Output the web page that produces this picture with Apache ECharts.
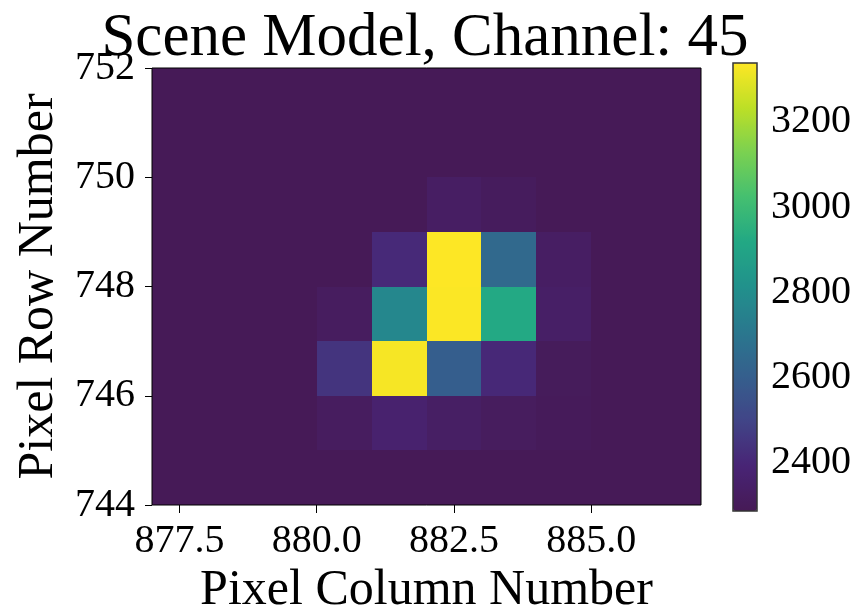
<!DOCTYPE html>
<html>
<head>
<meta charset="utf-8">
<script src="https://cdn.jsdelivr.net/npm/echarts@6/dist/echarts.min.js"></script>
<style>
  html, body {margin: 0; padding: 0; background: #fff;}
  #chart {width: 858px; height: 609px;}
</style>
</head>
<body>
<div id="chart"></div>
<script>
// pixel grid: lower-left corner of each cell
const columns = [877, 878, 879, 880, 881, 882, 883, 884, 885, 886];
const rows = [751, 750, 749, 748, 747, 746, 745, 744];
// flux per pixel, one line per row (top row first), columns left to right
const flux = [
    [2290, 2290, 2290, 2290, 2290, 2290, 2290, 2290, 2290, 2290],
    [2290, 2290, 2290, 2290, 2290, 2290, 2290, 2290, 2290, 2290],
    [2290, 2290, 2290, 2290, 2290, 2330, 2310, 2290, 2290, 2290],
    [2290, 2290, 2290, 2290, 2410, 3338, 2645, 2330, 2290, 2290],
    [2290, 2290, 2290, 2318, 2770, 3335, 2920, 2340, 2290, 2290],
    [2290, 2290, 2290, 2445, 3326, 2600, 2405, 2305, 2290, 2290],
    [2290, 2290, 2290, 2318, 2370, 2335, 2315, 2300, 2290, 2290],
    [2290, 2290, 2290, 2290, 2290, 2290, 2290, 2290, 2290, 2290]
];
const xTicks = [877.5, 880.0, 882.5, 885.0];
const barTicks = [2400, 2600, 2800, 3000, 3200];
const fluxMin = 2287;
const fluxMax = 3338;

// viridis, bottom stop nudged towards how the original renders it
const viridis = ['#461a56', '#482475', '#414487', '#355f8d', '#2a788e', '#21918c',
    '#22a884', '#44bf70', '#7ad151', '#bddf26', '#fde725'];

const cells = [];
rows.forEach((r, i) => {
    columns.forEach((c, j) => {
        cells.push([c, r, flux[i][j]]);
    });
});

const font = 'Liberation Serif';
const tickFont = {fontFamily: font, fontSize: 40, color: '#000'};

const chart = echarts.init(document.getElementById('chart'));
chart.setOption({
    animation: false,
    title: {
        text: 'Scene Model, Channel: 45',
        left: 420,
        textAlign: 'center',
        top: 3,
        textStyle: {fontFamily: font, fontSize: 61, fontWeight: 'normal', color: '#000'}
    },
    grid: [
        {left: 152, top: 68, width: 549, height: 437, outerBoundsMode: 'none', containLabel: false,
            show: true, borderColor: '#000', borderWidth: 1, z: 5},
        {left: 733, top: 63, width: 24, height: 448, outerBoundsMode: 'none', containLabel: false,
            show: true, borderColor: '#333', borderWidth: 1.5, z: 10}
    ],
    xAxis: [
        {
            type: 'value', min: 877, max: 887,
            name: 'Pixel Column Number', nameLocation: 'middle', nameGap: 58,
            nameTextStyle: {fontFamily: font, fontSize: 50, color: '#000'},
            axisLine: {show: false},
            axisTick: {show: true, length: 8, customValues: xTicks, lineStyle: {color: '#000'}},
            axisLabel: Object.assign({margin: 16, customValues: xTicks, formatter: v => v.toFixed(1)}, tickFont),
            splitLine: {show: false}
        },
        {gridIndex: 1, type: 'value', show: false}
    ],
    yAxis: [
        {
            type: 'value', min: 744, max: 752, interval: 2,
            name: 'Pixel Row Number', nameLocation: 'middle', nameGap: 82,
            nameTextStyle: {fontFamily: font, fontSize: 50, color: '#000'},
            axisLine: {show: false},
            axisTick: {show: true, length: 7, lineStyle: {color: '#000'}},
            axisLabel: Object.assign({margin: 17}, tickFont),
            splitLine: {show: false}
        },
        {
            gridIndex: 1, type: 'value', position: 'right', min: fluxMin, max: fluxMax,
            axisLine: {show: false},
            axisTick: {show: true, length: 6, customValues: barTicks, lineStyle: {color: '#000'}},
            axisLabel: Object.assign({margin: 14, customValues: barTicks, formatter: v => String(v)}, tickFont),
            splitLine: {show: false}
        }
    ],
    visualMap: {
        type: 'continuous',
        seriesIndex: 0,
        dimension: 2,
        min: fluxMin,
        max: fluxMax,
        calculable: false,
        show: true,
        left: 733,
        top: 63,
        padding: 0,
        itemWidth: 24,
        itemHeight: 448,
        text: null,
        showLabel: false,
        inRange: {color: viridis}
    },
    series: [{
        type: 'custom',
        xAxisIndex: 0,
        yAxisIndex: 0,
        data: cells,
        encode: {x: 0, y: 1},
        renderItem: (params, api) => {
            const x = api.value(0);
            const y = api.value(1);
            // snap cell corners to whole pixels so neighbours meet without seams
            const p0 = api.coord([x, y + 1]).map(Math.round);
            const p1 = api.coord([x + 1, y]).map(Math.round);
            return {
                type: 'rect',
                shape: {x: p0[0], y: p0[1], width: p1[0] - p0[0], height: p1[1] - p0[1]},
                style: {fill: api.visual('color')}
            };
        }
    }]
});
</script>
</body>
</html>
